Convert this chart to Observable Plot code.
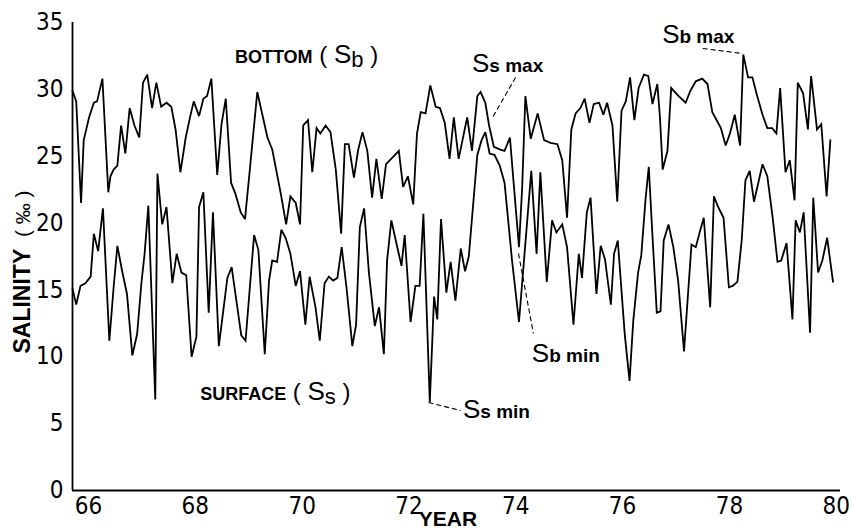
<!DOCTYPE html>
<html><head><meta charset="utf-8">
<script src="https://cdn.jsdelivr.net/npm/d3@7"></script>
<script src="https://cdn.jsdelivr.net/npm/@observablehq/plot@0.6"></script>
<style>body{margin:0;background:#fff}svg{display:block}</style>
</head><body><div id="chart"></div>
<script>
// [decimal year, salinity ‰]
const bottomData = [[65.70,29.9],[65.77,29.1],[65.86,21.5],[65.91,26.2],[66.01,27.9],[66.10,29.0],[66.16,29.1],[66.26,30.8],[66.37,22.3],[66.41,23.5],[66.47,24.0],[66.54,24.3],[66.61,27.3],[66.69,25.2],[66.77,28.6],[66.86,27.3],[66.95,26.4],[67.02,30.5],[67.10,31.1],[67.19,28.6],[67.27,30.5],[67.36,28.7],[67.46,29.0],[67.55,28.7],[67.63,27.0],[67.72,23.8],[67.82,26.4],[67.90,27.9],[67.97,29.1],[68.07,28.0],[68.15,29.3],[68.22,29.5],[68.30,30.8],[68.41,23.6],[68.49,27.4],[68.57,29.3],[68.67,23.0],[68.75,22.2],[68.85,20.8],[68.93,20.3],[69.03,24.4],[69.16,29.8],[69.35,26.4],[69.44,25.5],[69.60,22.2],[69.70,19.9],[69.78,22.0],[69.88,21.5],[69.96,19.9],[70.02,27.3],[70.11,27.7],[70.19,23.8],[70.27,27.1],[70.34,26.7],[70.44,27.3],[70.53,26.8],[70.63,24.0],[70.73,19.2],[70.80,25.9],[70.87,25.9],[70.97,23.4],[71.05,25.5],[71.13,26.8],[71.22,25.4],[71.31,21.9],[71.39,24.8],[71.49,21.8],[71.57,24.4],[71.69,24.9],[71.81,25.4],[71.89,22.7],[71.98,23.5],[72.08,21.4],[72.15,26.7],[72.22,28.3],[72.31,28.2],[72.40,30.3],[72.50,28.7],[72.58,28.6],[72.67,27.5],[72.76,24.8],[72.84,27.9],[72.93,24.8],[73.09,27.9],[73.18,25.4],[73.28,29.5],[73.34,29.8],[73.43,29.0],[73.50,27.3],[73.59,25.7],[73.71,25.5],[73.79,25.4],[73.89,26.4],[73.96,23.0],[74.06,18.2],[74.12,22.7],[74.18,29.5],[74.28,26.3],[74.41,28.2],[74.53,26.2],[74.65,26.0],[74.78,25.9],[74.87,24.7],[74.96,20.4],[75.04,27.0],[75.12,28.2],[75.21,28.6],[75.29,29.3],[75.38,27.5],[75.46,28.9],[75.56,29.0],[75.64,28.1],[75.71,29.0],[75.81,27.3],[75.90,21.6],[75.98,28.4],[76.06,29.1],[76.14,30.9],[76.22,27.7],[76.30,30.1],[76.40,31.1],[76.48,31.0],[76.56,28.9],[76.65,30.4],[76.70,27.9],[76.75,24.0],[76.84,25.4],[76.91,30.1],[77.05,29.5],[77.18,29.0],[77.27,29.9],[77.37,30.6],[77.49,30.8],[77.59,30.4],[77.68,28.3],[77.84,27.1],[77.93,25.8],[78.01,26.7],[78.10,28.1],[78.20,25.8],[78.26,32.6],[78.35,30.9],[78.43,30.9],[78.52,29.5],[78.62,28.1],[78.71,27.1],[78.80,27.1],[78.88,26.7],[78.95,30.1],[79.05,23.8],[79.13,24.7],[79.22,21.7],[79.28,30.5],[79.38,29.7],[79.47,27.0],[79.53,31.0],[79.64,27.0],[79.72,27.4],[79.82,22.0],[79.89,26.2]];

const surfaceData = [[65.70,15.1],[65.77,13.9],[65.85,15.3],[65.94,15.5],[66.04,16.0],[66.10,19.2],[66.18,17.9],[66.27,21.1],[66.39,11.2],[66.47,15.2],[66.54,18.3],[66.63,16.4],[66.72,14.7],[66.82,10.1],[66.91,11.7],[66.99,15.5],[67.05,17.7],[67.12,21.3],[67.25,6.8],[67.29,23.7],[67.38,19.9],[67.46,21.2],[67.57,15.5],[67.65,17.7],[67.74,16.3],[67.83,16.1],[67.93,10.0],[68.02,11.5],[68.07,21.2],[68.15,22.3],[68.25,13.3],[68.33,20.8],[68.44,10.8],[68.60,15.9],[68.68,16.7],[68.86,11.6],[68.94,11.2],[69.10,19.1],[69.18,18.0],[69.30,10.2],[69.38,15.7],[69.44,17.2],[69.53,17.1],[69.61,19.5],[69.69,18.9],[69.78,17.7],[69.88,15.3],[69.96,16.4],[70.06,12.4],[70.14,16.0],[70.25,13.7],[70.33,11.2],[70.42,15.5],[70.50,16.0],[70.58,15.7],[70.66,15.9],[70.74,18.2],[70.83,15.2],[70.94,10.8],[71.01,12.4],[71.08,19.7],[71.16,21.1],[71.25,16.3],[71.36,12.3],[71.44,13.7],[71.53,10.2],[71.59,17.2],[71.67,20.2],[71.77,18.4],[71.86,16.8],[71.92,19.1],[72.03,12.6],[72.12,15.3],[72.20,15.3],[72.27,20.7],[72.39,6.6],[72.47,14.5],[72.53,12.8],[72.60,20.3],[72.70,14.8],[72.78,17.1],[72.87,14.2],[72.97,18.1],[73.05,16.4],[73.12,17.5],[73.28,25.1],[73.36,26.2],[73.43,26.8],[73.51,25.2],[73.60,25.1],[73.70,24.3],[73.79,23.0],[73.93,17.2],[74.06,12.6],[74.29,23.9],[74.39,17.7],[74.46,23.8],[74.58,15.6],[74.68,20.2],[74.76,19.3],[74.87,19.9],[74.96,18.2],[75.08,12.4],[75.18,17.7],[75.24,15.9],[75.33,20.8],[75.40,21.9],[75.51,14.7],[75.59,18.3],[75.67,17.3],[75.78,13.9],[75.84,17.7],[75.91,18.7],[76.04,11.7],[76.13,8.2],[76.20,12.7],[76.29,16.3],[76.35,17.6],[76.43,21.8],[76.49,24.2],[76.56,19.0],[76.64,13.3],[76.71,13.4],[76.77,18.7],[76.86,19.9],[76.95,18.2],[77.04,15.7],[77.15,10.4],[77.29,18.4],[77.37,18.2],[77.45,19.4],[77.52,20.4],[77.64,13.7],[77.71,22.0],[77.79,21.2],[77.89,20.4],[77.99,15.2],[78.06,15.3],[78.15,15.6],[78.23,18.7],[78.30,23.2],[78.38,23.9],[78.46,21.6],[78.62,24.4],[78.71,23.5],[78.81,20.4],[78.90,17.1],[78.97,17.2],[79.07,18.5],[79.18,12.8],[79.24,20.2],[79.32,19.3],[79.39,20.8],[79.51,11.8],[79.57,21.9],[79.66,16.3],[79.74,17.2],[79.83,18.9],[79.94,15.6]];

const yTicks = [0, 5, 10, 15, 20, 25, 30, 35];
const xTicks = [66, 68, 70, 72, 74, 76, 78, 80];
const xDomain = [65.70, 80.08];
const yDomain = [0, 35];

// series labels and extreme-value labels (anchor: start of text, baseline)
const seriesLabels = [
  {year: 68.75, sal: 31.94, word: "BOTTOM", sub: "b"},
  {year: 68.10, sal: 6.73, word: "SURFACE", sub: "s"}
];
const extremeLabels = [
  {year: 73.19, sal: 31.26, sub: "s max"},
  {year: 76.75, sal: 33.43, sub: "b max"},
  {year: 74.31, sal: 9.57, sub: "b min"},
  {year: 73.02, sal: 5.39, sub: "s min"}
];
// dashed leader lines
const leaders = [
  {x1: 73.996, y1: 30.89, x2: 73.565, y2: 27.90},
  {x1: 77.50, y1: 33.06, x2: 78.246, y2: 32.68},
  {x1: 74.05, y1: 17.73, x2: 74.33, y2: 11.74},
  {x1: 72.367, y1: 6.58, x2: 72.966, y2: 5.98}
];

const bottom = bottomData.map(([year, sal]) => ({year, sal}));
const surface = surfaceData.map(([year, sal]) => ({year, sal}));

const NUMFONT = "'Liberation Sans Narrow', 'DejaVu Sans Condensed', 'Liberation Sans', sans-serif";
const FONT = "'Liberation Sans', Arial, Helvetica, sans-serif";

const chart = Plot.plot({
  width: 852, height: 531,
  marginLeft: 72, marginRight: 12, marginTop: 22, marginBottom: 41,
  x: {domain: xDomain},
  y: {domain: yDomain},
  style: {background: "#fff", color: "#000", overflow: "visible"},
  marks: [
    Plot.ruleX([xDomain[0]], {y1: yDomain[0], y2: yDomain[1], stroke: "#000", strokeWidth: 1.8}),
    Plot.ruleY([yDomain[0]], {stroke: "#000", strokeWidth: 1.8}),
    Plot.axisY(yTicks, {tickSize: 0, tickPadding: 9, fontSize: 24, fontFamily: NUMFONT, label: null, tickFormat: d => String(d)}),
    Plot.axisX(xTicks, {tickSize: 0, tickPadding: 6, fontSize: 24, fontFamily: NUMFONT, label: null, tickFormat: d => String(d)}),
    Plot.line(bottom, {x: "year", y: "sal", stroke: "#000", strokeWidth: 1.8, strokeLinejoin: "miter", strokeMiterlimit: 3}),
    Plot.line(surface, {x: "year", y: "sal", stroke: "#000", strokeWidth: 1.8, strokeLinejoin: "miter", strokeMiterlimit: 3}),
    Plot.link(leaders, {x1: "x1", y1: "y1", x2: "x2", y2: "y2", stroke: "#000", strokeWidth: 1.1, strokeDasharray: "5,3"})
  ]
});

document.getElementById("chart").appendChild(chart);

const svg = d3.select(chart);
const sx = chart.scale("x"), sy = chart.scale("y");

function addPart(t, text, size, bold, dy) {
  const s = t.append("tspan").text(text).attr("font-size", size).attr("font-weight", bold ? "bold" : "normal");
  if (dy) s.attr("dy", dy);
  return s;
}

for (const l of seriesLabels) {
  const t = svg.append("text").attr("x", sx.apply(l.year)).attr("y", sy.apply(l.sal))
    .attr("text-anchor", "start").attr("font-family", FONT).attr("fill", "#000");
  addPart(t, l.word, 18, true);
  addPart(t, "\u00a0( ", 24, false);
  addPart(t, "S", 26, false);
  addPart(t, l.sub, 22, false, 4);
  addPart(t, " )", 24, false, -4);
}
for (const l of extremeLabels) {
  const t = svg.append("text").attr("x", sx.apply(l.year)).attr("y", sy.apply(l.sal))
    .attr("text-anchor", "start").attr("font-family", FONT).attr("fill", "#000");
  addPart(t, "S", 26, false);
  addPart(t, l.sub, 19, true);
}

// axis titles
svg.append("text").attr("transform", "translate(30,272) rotate(-90)")
  .attr("text-anchor", "middle").attr("font-family", FONT).attr("fill", "#000")
  .call(t => { addPart(t, "SALINITY", 23, true); addPart(t, "\u00a0\u00a0(\u00a0‰\u00a0)", 21, false); });
svg.append("text").attr("x", 448).attr("y", 526).attr("text-anchor", "middle")
  .attr("font-family", FONT).attr("font-weight", "bold").attr("font-size", 21).attr("fill", "#000").text("YEAR");
</script>
</body></html>
